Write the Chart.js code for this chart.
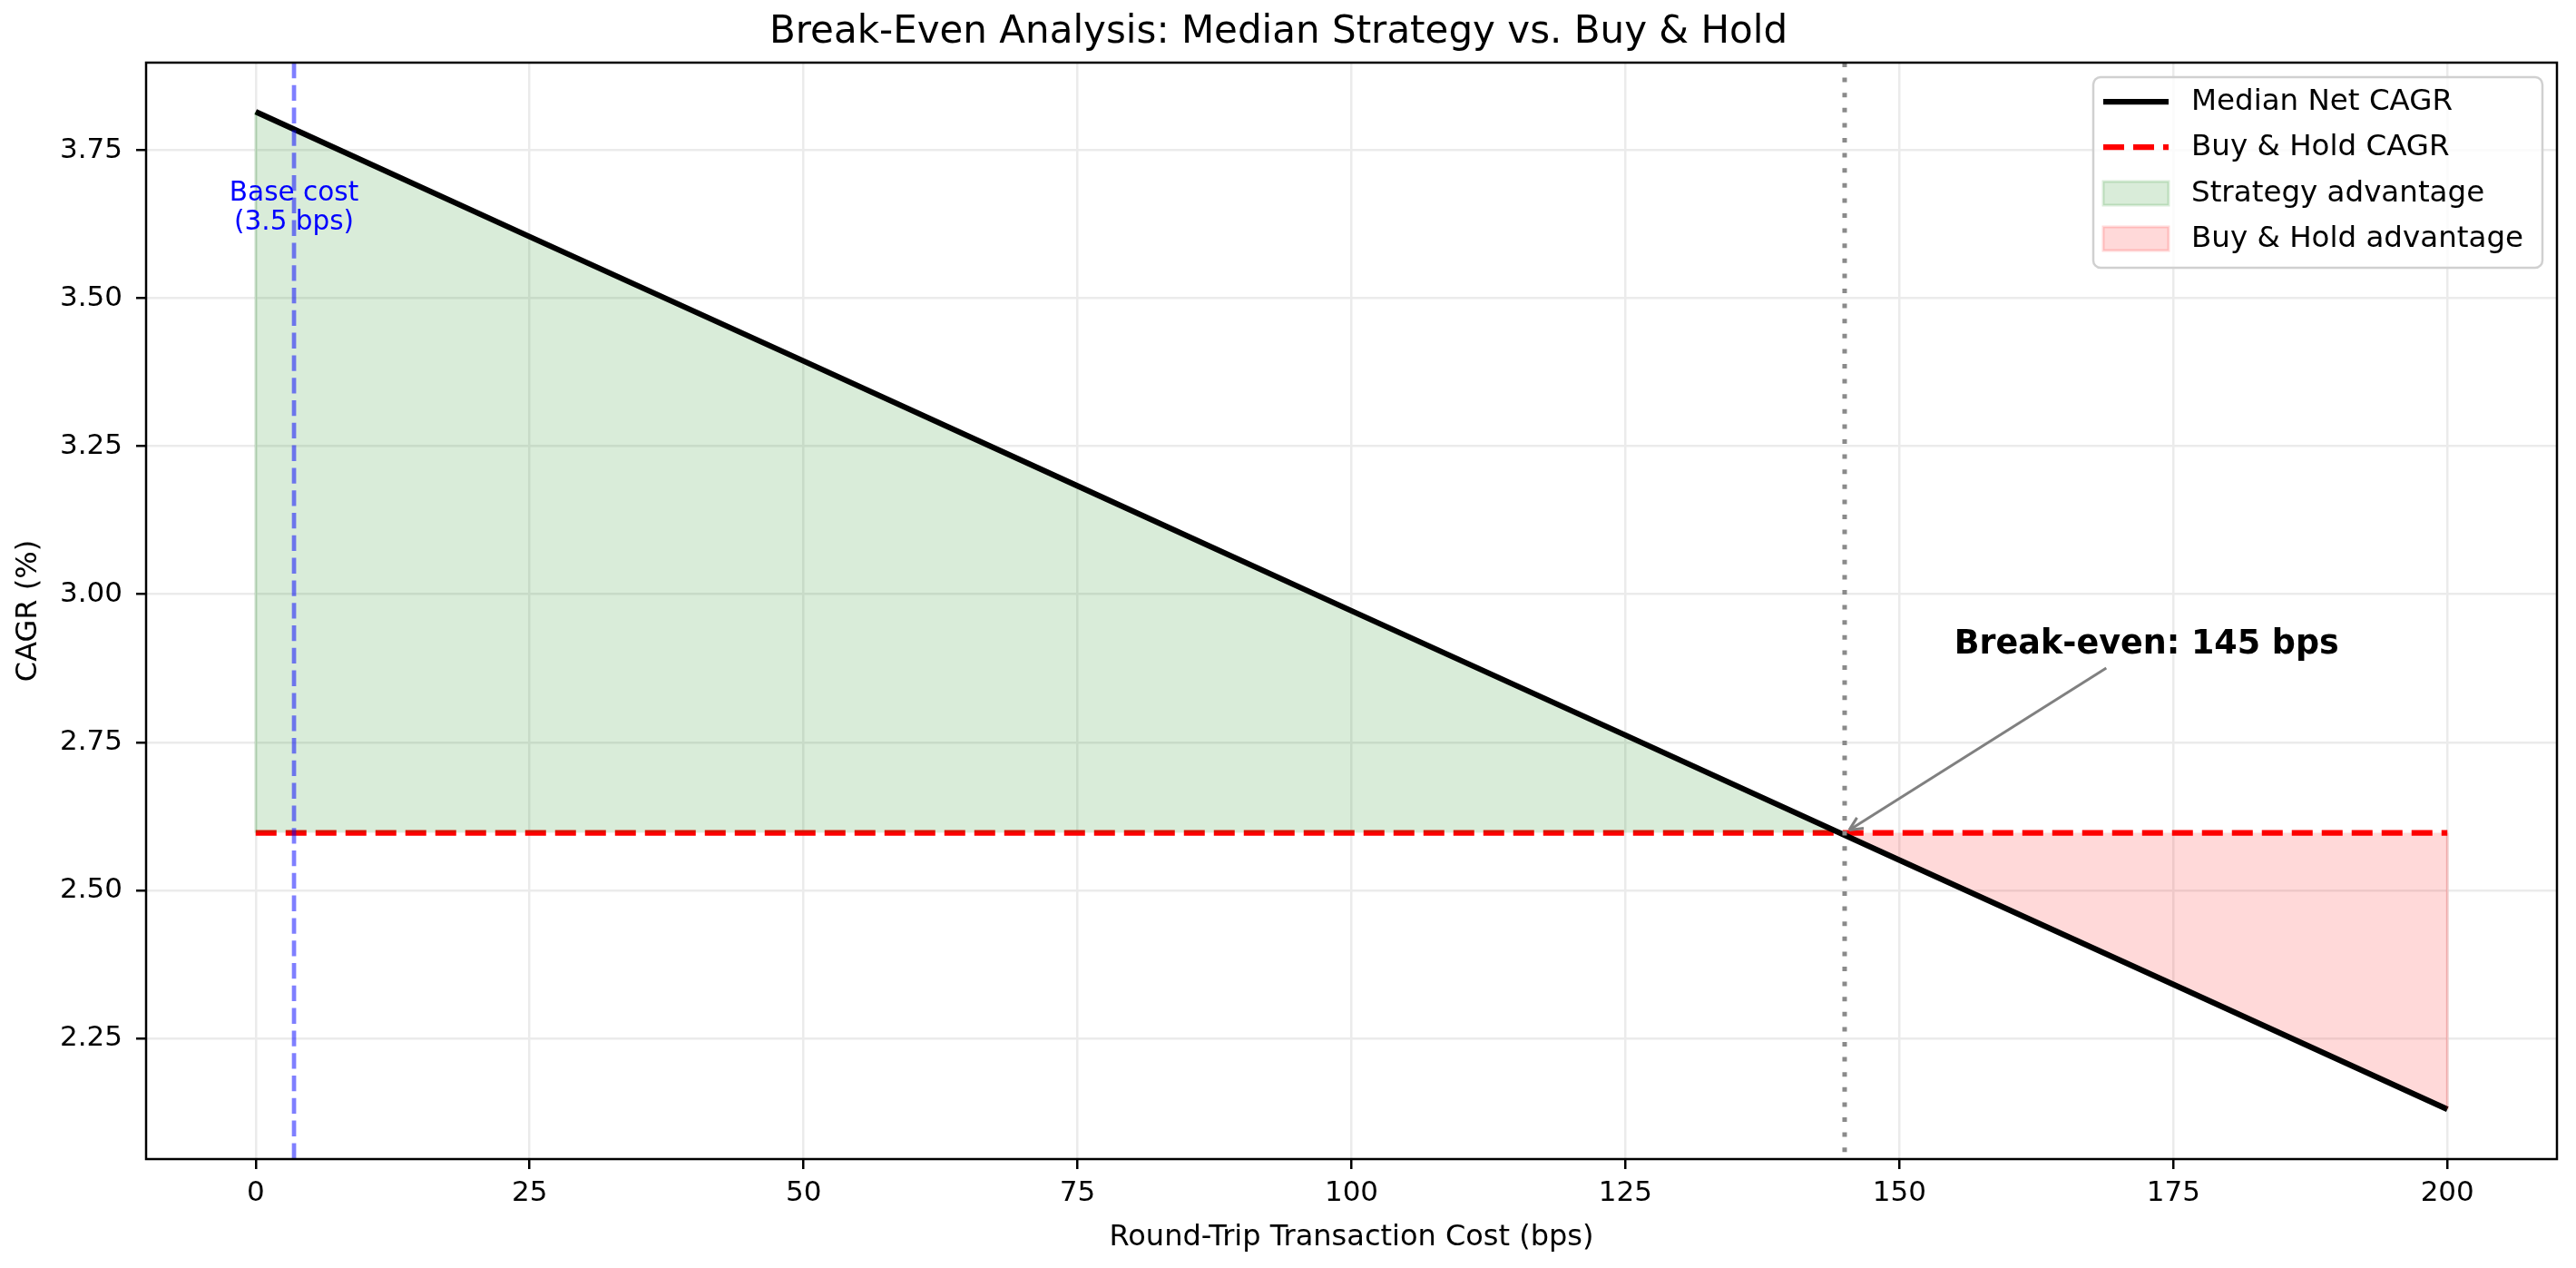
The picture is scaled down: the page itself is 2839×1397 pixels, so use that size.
<!DOCTYPE html>
<html>
<head>
<meta charset="utf-8">
<script src="https://cdn.jsdelivr.net/npm/chart.js@4.4.0/dist/chart.umd.min.js"></script>
<style>
  body { margin: 0; background: #fff; }
  #wrap { width: 2839px; height: 1397px; }
</style>
</head>
<body>
<div id="wrap"><canvas id="chart" width="2839" height="1397"></canvas></div>
<script>
// データ
const costBps = [0, 25, 50, 75, 100, 125, 150, 175, 200];
const medianCagr = [3.815, 3.604, 3.394, 3.183, 2.972, 2.762, 2.551, 2.341, 2.130];
const buyHoldCagr = [2.597, 2.597, 2.597, 2.597, 2.597, 2.597, 2.597, 2.597, 2.597];
const xTicks = [0, 25, 50, 75, 100, 125, 150, 175, 200];
const yTicks = [2.25, 2.5, 2.75, 3.0, 3.25, 3.5, 3.75];
const baseCostBps = 3.5;
const breakEvenBps = 145;
const legendLabels = ['Median Net CAGR', 'Buy & Hold CAGR', 'Strategy advantage', 'Buy & Hold advantage'];

const FONT = 'DejaVu Sans';
const GREEN_FILL = 'rgba(0,128,0,0.15)';
const RED_FILL = 'rgba(255,0,0,0.15)';

Chart.defaults.font.family = FONT;
Chart.defaults.color = '#000';

const toPts = ys => costBps.map((c, i) => ({ x: c, y: ys[i] }));

// 縦線・注釈
const overlayPlugin = {
  id: 'overlay',
  afterDatasetsDraw(chart) {
    const { ctx, chartArea: a, scales: { x, y } } = chart;
    ctx.save();

    // fill_between の端
    ctx.lineWidth = 3;
    [[0, GREEN_FILL], [costBps.length - 1, RED_FILL]].forEach(([i, col]) => {
      const px = x.getPixelForValue(costBps[i]);
      ctx.strokeStyle = col;
      ctx.beginPath();
      ctx.moveTo(px, y.getPixelForValue(medianCagr[i]));
      ctx.lineTo(px, y.getPixelForValue(buyHoldCagr[i]));
      ctx.stroke();
    });

    // base cost
    const bx = x.getPixelForValue(baseCostBps);
    ctx.strokeStyle = 'rgba(0,0,255,0.5)';
    ctx.lineWidth = 4.7;
    ctx.setLineDash([17.3, 7.5]);
    ctx.beginPath();
    ctx.moveTo(bx, a.top);
    ctx.lineTo(bx, a.bottom);
    ctx.stroke();

    // break-even
    const ex = x.getPixelForValue(breakEvenBps);
    ctx.strokeStyle = '#8a8a8a';
    ctx.lineWidth = 5;
    ctx.setLineDash([5, 11.6]);
    ctx.beginPath();
    ctx.moveTo(ex, a.top);
    ctx.lineTo(ex, a.bottom);
    ctx.stroke();
    ctx.setLineDash([]);

    // base cost label
    ctx.fillStyle = '#0000ff';
    ctx.font = '29.5px ' + FONT;
    ctx.textAlign = 'center';
    ctx.textBaseline = 'alphabetic';
    const ly = y.getPixelForValue(3.665);
    ctx.fillText('Base cost', bx, ly);
    ctx.fillText(`(${baseCostBps} bps)`, bx, ly + 32);

    // break-even annotation
    const tx = x.getPixelForValue(155);
    const ty = y.getPixelForValue(2.9);
    ctx.font = 'bold 36.5px ' + FONT;
    ctx.textAlign = 'left';
    ctx.fillStyle = '#000';
    const label = `Break-even: ${breakEvenBps} bps`;
    ctx.fillText(label, tx, ty);
    const tw = ctx.measureText(label).width;
    const cx = tx + tw / 2, cy = ty - 12;
    const hx = ex, hy = y.getPixelForValue(buyHoldCagr[0]);
    const dx = hx - cx, dy = hy - cy;
    const len = Math.hypot(dx, dy);
    const ux = dx / len, uy = dy / len;
    const startT = (ty + 16 - cy) / uy; // テキスト枠の下端から
    const sx = cx + ux * startT, sy = cy + uy * startT;
    const ax = hx - ux * 6, ay = hy - uy * 6;
    ctx.strokeStyle = '#808080';
    ctx.lineWidth = 3;
    ctx.beginPath();
    ctx.moveTo(sx, sy);
    ctx.lineTo(ax, ay);
    ctx.stroke();
    const ang = Math.atan2(uy, ux);
    ctx.beginPath();
    [0.45, -0.45].forEach(d => {
      ctx.moveTo(ax, ay);
      ctx.lineTo(ax - 16 * Math.cos(ang + d), ay - 16 * Math.sin(ang + d));
    });
    ctx.stroke();

    ctx.restore();
  },
  afterDraw(chart) {
    const { ctx, chartArea: a } = chart;
    ctx.save();
    // 枠線
    ctx.strokeStyle = '#000';
    ctx.lineWidth = 2.5;
    ctx.strokeRect(a.left, a.top, a.right - a.left, a.bottom - a.top);

    // 凡例
    const right = a.right - 16, top = a.top + 16;
    const w = 495, h = 210;
    const left = right - w;
    ctx.beginPath();
    ctx.roundRect(left, top, w, h, 8);
    ctx.fillStyle = 'rgba(255,255,255,0.8)';
    ctx.fill();
    ctx.strokeStyle = '#d0d0d0';
    ctx.lineWidth = 2.5;
    ctx.stroke();

    const hx0 = left + 11, hx1 = left + 83;
    const rows = [27, 77, 128, 178].map(d => top + d);
    ctx.lineWidth = 6.25;
    ctx.strokeStyle = '#000';
    ctx.beginPath(); ctx.moveTo(hx0, rows[0]); ctx.lineTo(hx1, rows[0]); ctx.stroke();
    ctx.strokeStyle = '#ff0000';
    ctx.setLineDash([23, 10]);
    ctx.beginPath(); ctx.moveTo(hx0, rows[1]); ctx.lineTo(hx1, rows[1]); ctx.stroke();
    ctx.setLineDash([]);
    [[rows[2], GREEN_FILL], [rows[3], RED_FILL]].forEach(([ry, col]) => {
      ctx.fillStyle = col;
      ctx.fillRect(hx0, ry - 13, 72, 26);
      ctx.strokeStyle = col;
      ctx.lineWidth = 3;
      ctx.strokeRect(hx0, ry - 13, 72, 26);
    });

    ctx.fillStyle = '#000';
    ctx.font = '32.5px ' + FONT;
    ctx.textAlign = 'left';
    ctx.textBaseline = 'middle';
    legendLabels.forEach((t, i) => ctx.fillText(t, left + 108, rows[i] + 1));
    ctx.restore();
  }
};

const ctx = document.getElementById('chart').getContext('2d');
const chart = new Chart(ctx, {
  type: 'line',
  data: {
    datasets: [
      {
        label: legendLabels[0],
        data: toPts(medianCagr),
        borderColor: '#000',
        borderWidth: 6.25,
        pointRadius: 0,
        tension: 0,
        fill: { target: 1, above: GREEN_FILL, below: RED_FILL },
      },
      {
        label: legendLabels[1],
        data: toPts(buyHoldCagr),
        borderColor: '#ff0000',
        borderWidth: 6.25,
        borderDash: [23, 10],
        borderCapStyle: 'butt',
        pointRadius: 0,
        fill: false,
      },
    ],
  },
  options: {
    responsive: false,
    devicePixelRatio: 1,
    animation: false,
    layout: { padding: { right: 21 } },
    plugins: {
      legend: { display: false },
      tooltip: { enabled: false },
      title: {
        display: true,
        text: 'Break-Even Analysis: Median Strategy vs. Buy & Hold',
        font: { size: 42, weight: 'normal', lineHeight: 1.2 },
        color: '#000',
        padding: { top: 10.5, bottom: 8.1 },
      },
    },
    scales: {
      x: {
        type: 'linear',
        min: -10,
        max: 210,
        afterBuildTicks: s => { s.ticks = xTicks.map(v => ({ value: v })); },
        afterFit: s => { s.height = 120; },
        ticks: { font: { size: 31 }, color: '#000', padding: 8, maxRotation: 0 },
        grid: { color: '#ebebeb', lineWidth: 2.5, tickLength: 11, tickColor: '#000', tickWidth: 2.5 },
        border: { display: false },
        title: {
          display: true,
          text: 'Round-Trip Transaction Cost (bps)',
          font: { size: 32 },
          color: '#000',
          padding: { top: 0, bottom: 14 },
        },
      },
      y: {
        type: 'linear',
        min: 2.046,
        max: 3.898,
        afterBuildTicks: s => { s.ticks = yTicks.map(v => ({ value: v })); },
        afterFit: s => { s.width = 161; },
        ticks: { font: { size: 31 }, color: '#000', padding: 15, callback: v => v.toFixed(2) },
        grid: { color: '#ebebeb', lineWidth: 2.5, tickLength: 11, tickColor: '#000', tickWidth: 2.5 },
        border: { display: false },
        title: {
          display: true,
          text: 'CAGR (%)',
          font: { size: 32 },
          color: '#000',
          padding: { top: 12, bottom: 0 },
        },
      },
    },
  },
  plugins: [overlayPlugin],
});
</script>
</body>
</html>
